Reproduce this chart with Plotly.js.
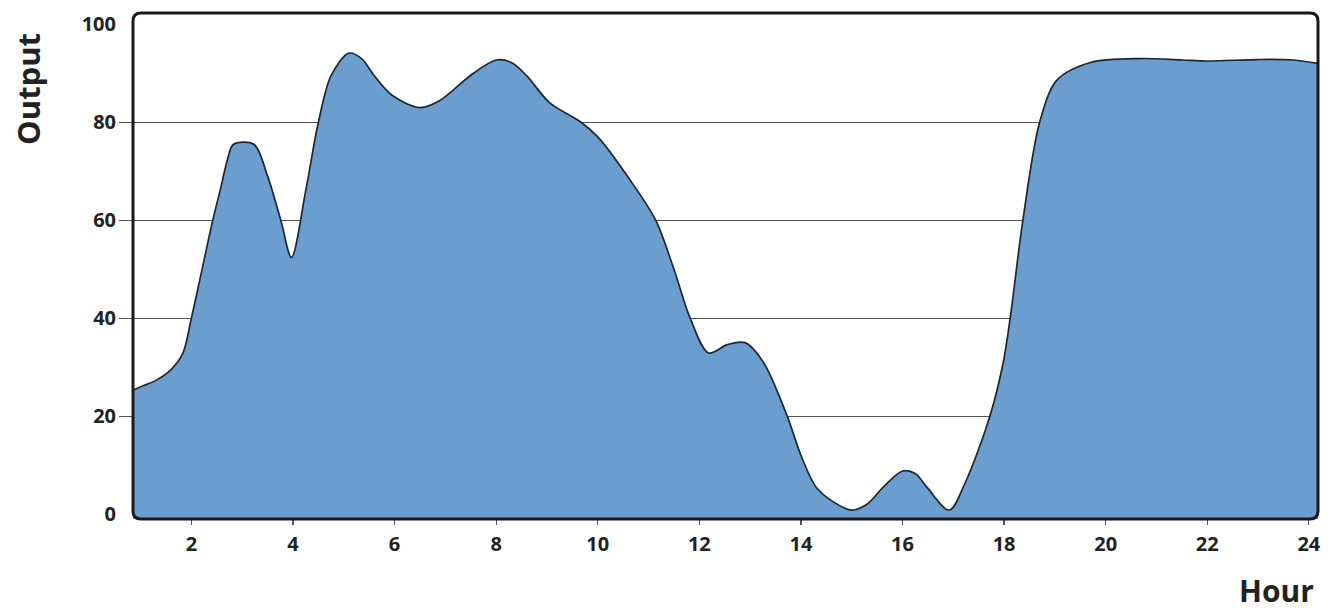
<!DOCTYPE html>
<html>
<head>
<meta charset="utf-8">
<script src="https://cdn.plot.ly/plotly-3.0.1.min.js"></script>
<style>
  html, body { margin: 0; padding: 0; background: #ffffff; }
  #chart { width: 1332px; height: 610px; }
</style>
</head>
<body>
<div id="chart"></div>
<script>
// ---- data ----
const hours = [0.85, 1.0, 1.3, 1.6, 1.83, 2.0, 2.2, 2.42, 2.58, 2.7, 2.83, 3.23, 3.5, 3.76, 3.97,
  4.25, 4.5, 4.75, 5.1, 5.35, 5.6, 5.95, 6.5, 6.9, 7.5, 8.0, 8.3, 8.6, 9.05, 9.67, 10.0, 10.65,
  11.14, 11.5, 11.82, 12.18, 12.55, 12.9, 13.26, 13.73, 14.0, 14.3, 14.64, 15.0, 15.3, 15.62,
  16.0, 16.25, 16.48, 16.92, 17.23, 17.72, 17.98, 18.12, 18.37, 18.7, 19.04, 19.7, 20.68,
  21.5, 22.0, 23.0, 23.7, 24.18];
const output = [25.3, 26.0, 27.3, 29.5, 32.8, 40, 49.5, 60, 66.7, 72, 75.5, 75.5, 69, 60, 52.4,
  66, 80, 89.5, 94.1, 93, 89.5, 85.5, 83, 84.5, 89.6, 92.7, 92.2, 89.5, 84, 80, 77, 68,
  60, 50, 40, 32.9, 34.6, 35, 31, 20, 12, 5.5, 2.5, 0.8, 2, 5.5,
  8.8, 8.3, 5.5, 0.8, 6.3, 20, 30.8, 40, 60, 80, 88.6, 92.2, 93,
  92.7, 92.5, 92.8, 92.7, 92];
const yTickVals = [0, 20, 40, 60, 80, 100];
const gridVals = [20, 40, 60, 80];
const xTickVals = [2, 4, 6, 8, 10, 12, 14, 16, 18, 20, 22, 24];
const xTitle = "Hour";
const yTitle = "Output";

// ---- axis ranges / style ----
const X_RANGE = [0.85, 24.18];
const Y_RANGE = [-1, 102.3];
const FILL = "#6c9dcf";
const LINE = "#1c2836";
const FONT = "Open Sans, DejaVu Sans, sans-serif";

const baseline = hours.map(() => Y_RANGE[0]);

const traces = [
  { x: hours, y: baseline, type: "scatter", mode: "lines",
    line: { width: 0, color: "rgba(0,0,0,0)" }, hoverinfo: "skip", showlegend: false },
  { x: hours, y: output, type: "scatter", mode: "lines", fill: "tonexty",
    fillcolor: FILL, line: { color: LINE, width: 1.7, shape: "spline", smoothing: 0.9 },
    showlegend: false },
  { x: [], y: [], yaxis: "y2", type: "scatter", mode: "lines", showlegend: false, hoverinfo: "skip" }
];

// rounded frame in paper coordinates
const W = 1332 - 133 - 14, H = 610 - 13 - 91, R = 8;
const rx = R / W, ry = R / H;
const framePath = `M ${rx},0 L ${1 - rx},0 Q 1,0 1,${ry} L 1,${1 - ry} Q 1,1 ${1 - rx},1 ` +
  `L ${rx},1 Q 0,1 0,${1 - ry} L 0,${ry} Q 0,0 ${rx},0 Z`;

const layout = {
  width: 1332, height: 610,
  margin: { l: 133, r: 14, t: 13, b: 91 },
  paper_bgcolor: "#ffffff", plot_bgcolor: "#ffffff",
  showlegend: false,
  xaxis: {
    range: X_RANGE, tickvals: xTickVals, ticks: "outside", ticklen: 5, tickwidth: 1.2,
    tickcolor: "#555", showgrid: false, zeroline: false, showline: false,
    tickfont: { family: FONT, size: 20, color: "#222", weight: 700 },
    ticklabelstandoff: 2, fixedrange: true
  },
  yaxis: {
    range: Y_RANGE, tickvals: yTickVals, ticks: "outside", ticklen: 12,
    tickcolor: "rgba(0,0,0,0)", showgrid: false, zeroline: false, showline: false,
    tickfont: { family: FONT, size: 20, color: "#222", weight: 700 }, fixedrange: true
  },
  yaxis2: {
    overlaying: "y", side: "left", range: Y_RANGE, tickvals: gridVals,
    ticks: "outside", ticklen: 13, tickwidth: 1.2, tickcolor: "#555",
    showticklabels: false, showgrid: true, gridcolor: "#555", gridwidth: 1.2,
    zeroline: false, showline: false, layer: "below traces", fixedrange: true
  },
  shapes: [
    { type: "path", xref: "paper", yref: "paper", path: framePath,
      line: { color: "#1a1a1a", width: 3 }, fillcolor: "rgba(0,0,0,0)", layer: "above" }
  ],
  annotations: [
    { text: yTitle, xref: "paper", yref: "paper", x: -0.0886, y: 0.85, textangle: -90,
      xanchor: "center", yanchor: "middle", showarrow: false,
      font: { family: FONT, size: 31, color: "#222", weight: 700 } },
    { text: xTitle, xref: "paper", yref: "paper", x: 0.9646, y: -0.141,
      xanchor: "center", yanchor: "middle", showarrow: false,
      font: { family: FONT, size: 30, color: "#222", weight: 700 } }
  ]
};

Plotly.newPlot("chart", traces, layout, { displayModeBar: false, staticPlot: true });
</script>
</body>
</html>
